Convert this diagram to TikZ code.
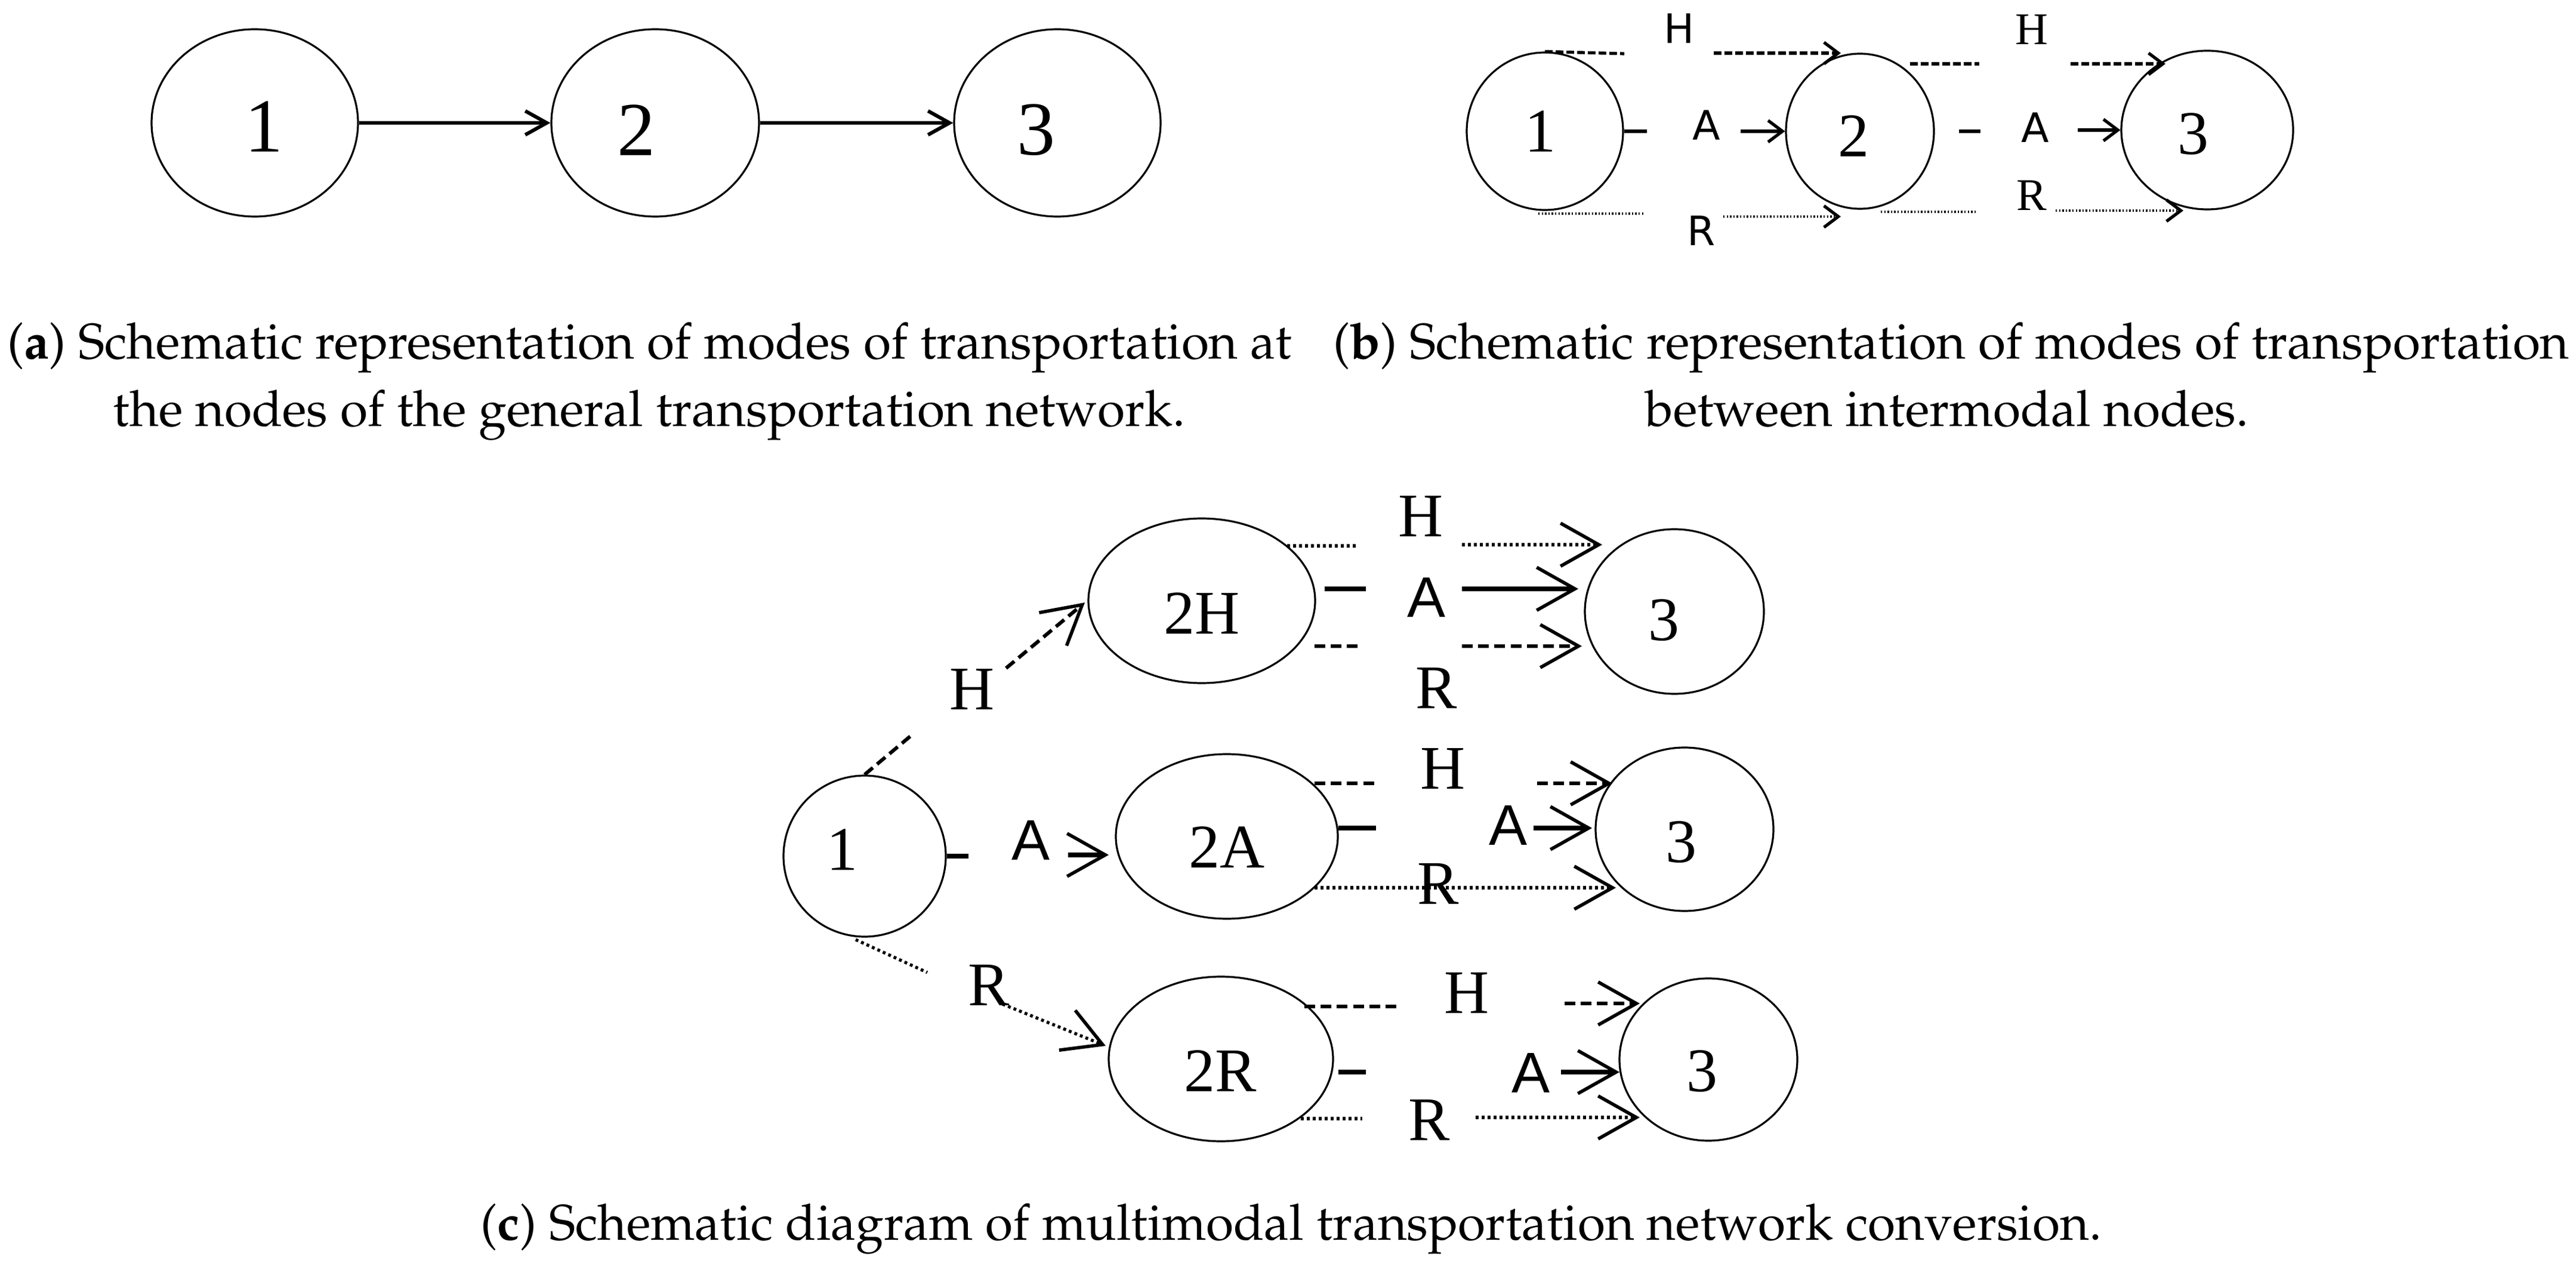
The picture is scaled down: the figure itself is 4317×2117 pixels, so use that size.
\documentclass[tikz,border=0pt]{standalone}
\usepackage[T1]{fontenc}
\usepackage{fontspec}
\newfontfamily\serifdig{Liberation Serif}
\newfontfamily\modefont{DejaVu Sans}
\newfontfamily\armfont{Liberation Sans}
\newcommand\capfont{\fontencoding{T1}\fontfamily{ppl}\fontsize{21}{28.25}\selectfont}
\usetikzlibrary{shapes.geometric,arrows.meta}

\tikzset{
  ell/.style 2 args={draw, ellipse, line width=0.8pt, inner sep=0pt, minimum width=#1, minimum height=#2},
  digA/.style={inner sep=0pt, font=\serifdig\fontsize{32}{32}\selectfont},
  digB/.style={inner sep=0pt, font=\serifdig\fontsize{26}{26}\selectfont},
  modeB/.style={inner sep=0pt, font=\modefont\fontsize{17}{17}\selectfont},
  modeBs/.style={inner sep=0pt, font=\serifdig\fontsize{19}{19}\selectfont},
  nameC/.style={inner sep=0pt, font=\serifdig\fontsize{26}{26}\selectfont},
  modeC/.style={inner sep=0pt, font=\serifdig\fontsize{26}{26}\selectfont},
  modeCa/.style={inner sep=0pt, font=\armfont\fontsize{24}{24}\selectfont},
  capt/.style={inner sep=0pt, anchor=base, font=\capfont},
  linkA/.style={line width=1.5pt, -{Straight Barb[length=9pt,width=10pt]}},
  hwayB/.style={line width=1.3pt, dash pattern=on 3.2pt off 1.3pt},
  airB/.style={line width=1.5pt},
  railB/.style={line width=1.2pt, dash pattern=on 0.6pt off 0.8pt},
  tipB/.style={-{Straight Barb[length=6pt,width=9pt,line width=1.3pt]}},
  hwayC/.style={line width=1.5pt, dash pattern=on 4.5pt off 2.3pt},
  airC/.style={line width=1.8pt},
  railC/.style={line width=1.3pt, dash pattern=on 1.2pt off 1.3pt},
  tipC/.style={-{Straight Barb[length=16pt,width=18pt,line width=1.4pt]}},
}

\begin{document}
\begin{tikzpicture}[x=0.25pt,y=0.25pt,yscale=-1,xscale=1]
  \useasboundingbox (0,0) rectangle (4317,2117);

  %(a) general network
  \node[ell={86.5pt}{78.5pt}] (a1) at (427,206) {};
  \node[ell={87pt}{78.5pt}] (a2) at (1098,206) {};
  \node[ell={86.5pt}{78.5pt}] (a3) at (1772,206) {};
  \node[digA] (a1t) at (442,212) {1};
  \node[digA] (a2t) at (1066,218) {2};
  \node[digA] (a3t) at (1736,218) {3};
  \draw[linkA] (a1) -- (a2);
  \draw[linkA] (a2) -- (a3);

  %(b) intermodal nodes
  \node[ell={65.5pt}{66pt}] (b1) at (2589,220) {};
  \node[ell={62pt}{65pt}] (b2) at (3117,220) {};
  \node[ell={72pt}{66.5pt}] (b3) at (3699,218) {};
  \node[digB] (b1t) at (2581,220) {1};
  \node[digB] (b2t) at (3106,228) {2};
  \node[digB] (b3t) at (3675,225) {3};
  % Text Node
  \node[modeB] (bH1) at (2814,48) {H};
  \node[modeB] (bA1) at (2860,210) {A};
  \node[modeB] (bR1) at (2851,387) {R};
  \node[modeBs] (bH2) at (3405,50) {H};
  \node[modeB] (bA2) at (3411,214) {A};
  \node[modeBs] (bR2) at (3405,328) {R};
  %1 -> 2
  \coordinate (bH1a) at (2722,90);
  \coordinate (bH1b) at (2872,89);
  \coordinate (bH1c) at (3085,89);
  \draw[hwayB] (b1.north) -- (bH1a);
  \draw[hwayB,tipB] (bH1b) -- (bH1c);
  \coordinate (bA1a) at (2760,220);
  \coordinate (bA1b) at (2917,220);
  \draw[airB] (b1.east) -- (bA1a);
  \draw[airB,tipB] (bA1b) -- (b2.west);
  \coordinate (bR1s) at (2578,358);
  \coordinate (bR1a) at (2755,358);
  \coordinate (bR1b) at (2888,363);
  \coordinate (bR1c) at (3085,363);
  \draw[railB] (bR1s) -- (bR1a);
  \draw[railB,tipB] (bR1b) -- (bR1c);
  %2 -> 3
  \coordinate (bH2s) at (3201,107);
  \coordinate (bH2a) at (3317,107);
  \coordinate (bH2b) at (3470,107);
  \coordinate (bH2c) at (3629,107);
  \draw[hwayB] (bH2s) -- (bH2a);
  \draw[hwayB,tipB] (bH2b) -- (bH2c);
  \coordinate (bA2s) at (3283,220);
  \coordinate (bA2a) at (3319,220);
  \coordinate (bA2b) at (3482,218);
  \draw[airB] (bA2s) -- (bA2a);
  \draw[airB,tipB] (bA2b) -- (b3.west);
  \coordinate (bR2s) at (3152,355);
  \coordinate (bR2a) at (3311,355);
  \coordinate (bR2b) at (3445,353);
  \coordinate (bR2c) at (3659,353);
  \draw[railB] (bR2s) -- (bR2a);
  \draw[railB,tipB] (bR2b) -- (bR2c);

  %(c) multimodal conversion
  \node[ell={68pt}{67.5pt}] (c1) at (1449,1435) {};
  \node[ell={95pt}{69pt}] (c2H) at (2014,1007) {};
  \node[ell={93pt}{69pt}] (c2A) at (2056,1402) {};
  \node[ell={94pt}{69pt}] (c2R) at (2046,1775) {};
  \node[ell={75pt}{69pt}] (c3H) at (2806,1025) {};
  \node[ell={74.5pt}{68.5pt}] (c3A) at (2823,1390) {};
  \node[ell={74.5pt}{68pt}] (c3R) at (2863,1776) {};
  \node[nameC] (c1t) at (1411,1424) {1};
  \node[nameC] (c2Ht) at (2014,1028) {2H};
  \node[nameC] (c2At) at (2056,1420) {2A};
  \node[nameC] (c2Rt) at (2045,1795) {2R};
  \node[nameC] (c3Ht) at (2788,1040) {3};
  \node[nameC] (c3At) at (2817,1412) {3};
  \node[nameC] (c3Rt) at (2852,1796) {3};
  % Text Node
  \node[modeC] (cH0) at (1629,1155) {H};
  \node[modeCa] (cA0) at (1727,1408) {A};
  \node[modeC] (cR0) at (1657,1651) {R};
  \node[modeC] (cH1) at (2381,865) {H};
  \node[modeCa] (cA1) at (2390,1001) {A};
  \node[modeC] (cR1) at (2407,1153) {R};
  \node[modeC] (cH2) at (2418,1288) {H};
  \node[modeCa] (cA2) at (2527,1383) {A};
  \node[modeC] (cR2) at (2410,1481) {R};
  \node[modeC] (cH3) at (2458,1664) {H};
  \node[modeCa] (cA3) at (2565,1798) {A};
  \node[modeC] (cR3) at (2395,1877) {R};
  %1 -> 2H, 2A, 2R
  \coordinate (cH0a) at (1528,1232);
  \coordinate (cH0b) at (1686,1120);
  \coordinate (cH0c) at (1818,1010);
  \draw[hwayC] (c1.north) -- (cH0a);
  \draw[hwayC,tipC] (cH0b) -- (cH0c);
  \coordinate (cA0a) at (1623,1435);
  \coordinate (cA0b) at (1790,1433);
  \coordinate (cA0c) at (1858,1433);
  \draw[airC] (c1.east) -- (cA0a);
  \draw[airC,tipC] (cA0b) -- (cA0c);
  \coordinate (cR0s) at (1434,1575);
  \coordinate (cR0a) at (1554,1630);
  \coordinate (cR0b) at (1680,1683);
  \coordinate (cR0c) at (1853,1753);
  \draw[railC] (cR0s) -- (cR0a);
  \draw[railC,tipC] (cR0b) -- (cR0c);
  %2H -> 3
  \coordinate (cH1s) at (2157,915);
  \coordinate (cH1a) at (2272,915);
  \coordinate (cH1b) at (2450,913);
  \coordinate (cH1c) at (2685,913);
  \draw[railC] (cH1s) -- (cH1a);
  \draw[railC,tipC] (cH1b) -- (cH1c);
  \coordinate (cA1s) at (2220,987);
  \coordinate (cA1a) at (2289,987);
  \coordinate (cA1b) at (2450,987);
  \coordinate (cA1c) at (2645,987);
  \draw[airC] (cA1s) -- (cA1a);
  \draw[airC,tipC] (cA1b) -- (cA1c);
  \coordinate (cR1s) at (2203,1083);
  \coordinate (cR1a) at (2283,1083);
  \coordinate (cR1b) at (2450,1083);
  \coordinate (cR1c) at (2651,1083);
  \draw[hwayC] (cR1s) -- (cR1a);
  \draw[hwayC,tipC] (cR1b) -- (cR1c);
  %2A -> 3
  \coordinate (cH2s) at (2203,1313);
  \coordinate (cH2a) at (2306,1313);
  \coordinate (cH2b) at (2576,1313);
  \coordinate (cH2c) at (2702,1313);
  \draw[hwayC] (cH2s) -- (cH2a);
  \draw[hwayC,tipC] (cH2b) -- (cH2c);
  \coordinate (cA2s) at (2243,1388);
  \coordinate (cA2a) at (2306,1388);
  \coordinate (cA2b) at (2570,1388);
  \coordinate (cA2c) at (2668,1388);
  \draw[airC] (cA2s) -- (cA2a);
  \draw[airC,tipC] (cA2b) -- (cA2c);
  \coordinate (cR2s) at (2203,1488);
  \coordinate (cR2c) at (2708,1488);
  \draw[railC,tipC] (cR2s) -- (cR2c);
  %2R -> 3
  \coordinate (cH3s) at (2186,1687);
  \coordinate (cH3a) at (2346,1687);
  \coordinate (cH3b) at (2622,1682);
  \coordinate (cH3c) at (2748,1682);
  \draw[hwayC] (cH3s) -- (cH3a);
  \draw[hwayC,tipC] (cH3b) -- (cH3c);
  \coordinate (cA3s) at (2243,1797);
  \coordinate (cA3a) at (2289,1797);
  \coordinate (cA3b) at (2616,1797);
  \coordinate (cA3c) at (2714,1797);
  \draw[airC] (cA3s) -- (cA3a);
  \draw[airC,tipC] (cA3b) -- (cA3c);
  \coordinate (cR3s) at (2180,1875);
  \coordinate (cR3a) at (2283,1875);
  \coordinate (cR3b) at (2473,1873);
  \coordinate (cR3c) at (2748,1873);
  \draw[railC] (cR3s) -- (cR3a);
  \draw[railC,tipC] (cR3b) -- (cR3c);

  % Captions
  \node[capt] (capA1) at (1089,602) {(\textbf{a}) Schematic representation of modes of transportation at};
  \node[capt] (capA2) at (1088,715) {the nodes of the general transportation network.};
  \node[capt] (capB1) at (3270,602) {(\textbf{b}) Schematic representation of modes of transportation};
  \node[capt] (capB2) at (3263,715) {between intermodal nodes.};
  \node[capt] (capC) at (2164,2078) {(\textbf{c}) Schematic diagram of multimodal transportation network conversion.};
\end{tikzpicture}
\end{document}
